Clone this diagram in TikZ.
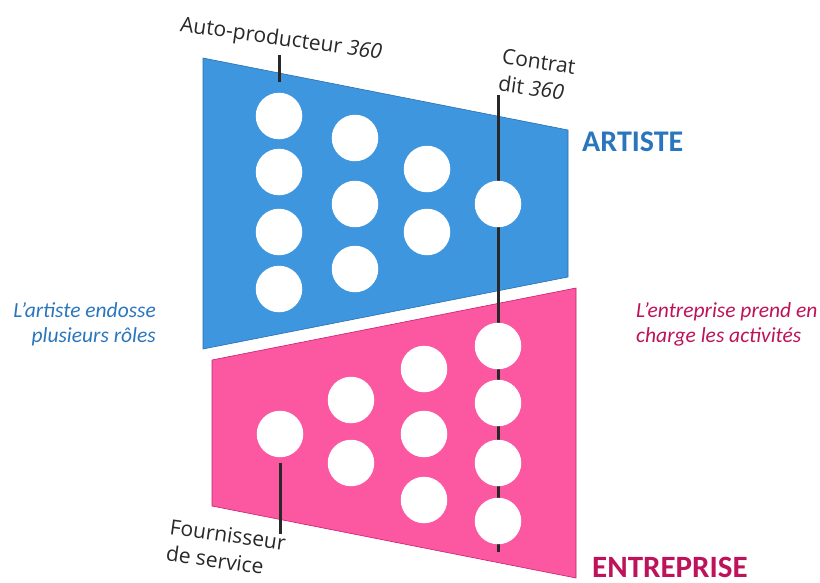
\documentclass[tikz,border=0pt]{standalone}
\usepackage{fontspec}
\setmainfont{Carlito}
\newfontfamily\labelfont{Open Sans}
\definecolor{artblue}{RGB}{62,151,222}
\definecolor{artedge}{RGB}{40,110,175}
\definecolor{entpink}{RGB}{252,88,162}
\definecolor{entedge}{RGB}{200,30,110}
\definecolor{bluetext}{RGB}{42,118,188}
\definecolor{pinktext}{RGB}{190,18,90}
\definecolor{darktext}{RGB}{40,40,40}
\tikzset{
  dot/.style={circle, fill=white, minimum size=46.5pt, inner sep=0pt},
  leader/.style={draw=darktext, line width=3pt},
  lbl/.style={font=\labelfont\fontsize{21}{27}\selectfont, text=darktext, inner sep=0pt, rotate=-8},
  bluenote/.style={font=\fontsize{21.5}{25}\selectfont\itshape, text=bluetext, inner sep=0pt},
  pinknote/.style={font=\fontsize{21.5}{25}\selectfont\itshape, text=pinktext, inner sep=0pt},
  title/.style={font=\fontsize{30}{36}\selectfont\bfseries, inner sep=0pt}
}
\begin{document}
\begin{tikzpicture}[x=1pt,y=-1pt]
\useasboundingbox (0,0) rectangle (820,582);
% panels
\path[fill=artblue, draw=artedge, line width=0.6pt] (203,58) -- (568,130) -- (568,277) -- (203,349) -- cycle;
\path[fill=entpink, draw=entedge, line width=0.6pt] (212,360) -- (576,288) -- (576,578) -- (212,506) -- cycle;
% leader lines
\coordinate (apTop) at (279,55);
\coordinate (apBot) at (279,82);
\coordinate (ctTop) at (498,95);
\coordinate (ctBot) at (498,552);
\coordinate (fsTop) at (280,463);
\coordinate (fsBot) at (280,534);
\draw[leader] (apTop) -- (apBot);
\draw[leader] (ctTop) -- (ctBot);
\draw[leader] (fsTop) -- (fsBot);
% artiste circles
\node[dot] (b11) at (279,116) {};
\node[dot] (b12) at (279,172) {};
\node[dot] (b13) at (279,232) {};
\node[dot] (b14) at (279,289) {};
\node[dot] (b21) at (355,138) {};
\node[dot] (b22) at (355,204) {};
\node[dot] (b23) at (355,269) {};
\node[dot] (b31) at (427,169) {};
\node[dot] (b32) at (427,232) {};
\node[dot] (b41) at (498,204) {};
% entreprise circles
\node[dot] (p11) at (280,434) {};
\node[dot] (p21) at (351,400) {};
\node[dot] (p22) at (351,463) {};
\node[dot] (p31) at (424,369) {};
\node[dot] (p32) at (424,434) {};
\node[dot] (p33) at (424,500) {};
\node[dot] (p41) at (498,346) {};
\node[dot] (p42) at (498,403) {};
\node[dot] (p43) at (498,463) {};
\node[dot] (p44) at (498,521) {};
% labels
\node[lbl] (aplabel) at (281,40) {Auto-producteur \textit{360}};
\node[lbl, align=left] (ctlabel) at (537,75) {Contrat\\dit \textit{360}};
\node[lbl, align=left] (fslabel) at (226,548) {Fournisseur\\de service};
\node[title, text=bluetext, anchor=west] (artiste) at (582,142) {ARTISTE};
\node[title, text=pinktext, anchor=west, font=\fontsize{31}{36}\selectfont\bfseries] (entreprise) at (592,567) {ENTREPRISE};
\node[bluenote, align=right, anchor=east] (leftnote) at (156,324) {L’artiste endosse\\plusieurs rôles};
\node[pinknote, align=left, anchor=west] (rightnote) at (636,324) {L’entreprise prend en\\charge les activités};
\end{tikzpicture}
\end{document}
